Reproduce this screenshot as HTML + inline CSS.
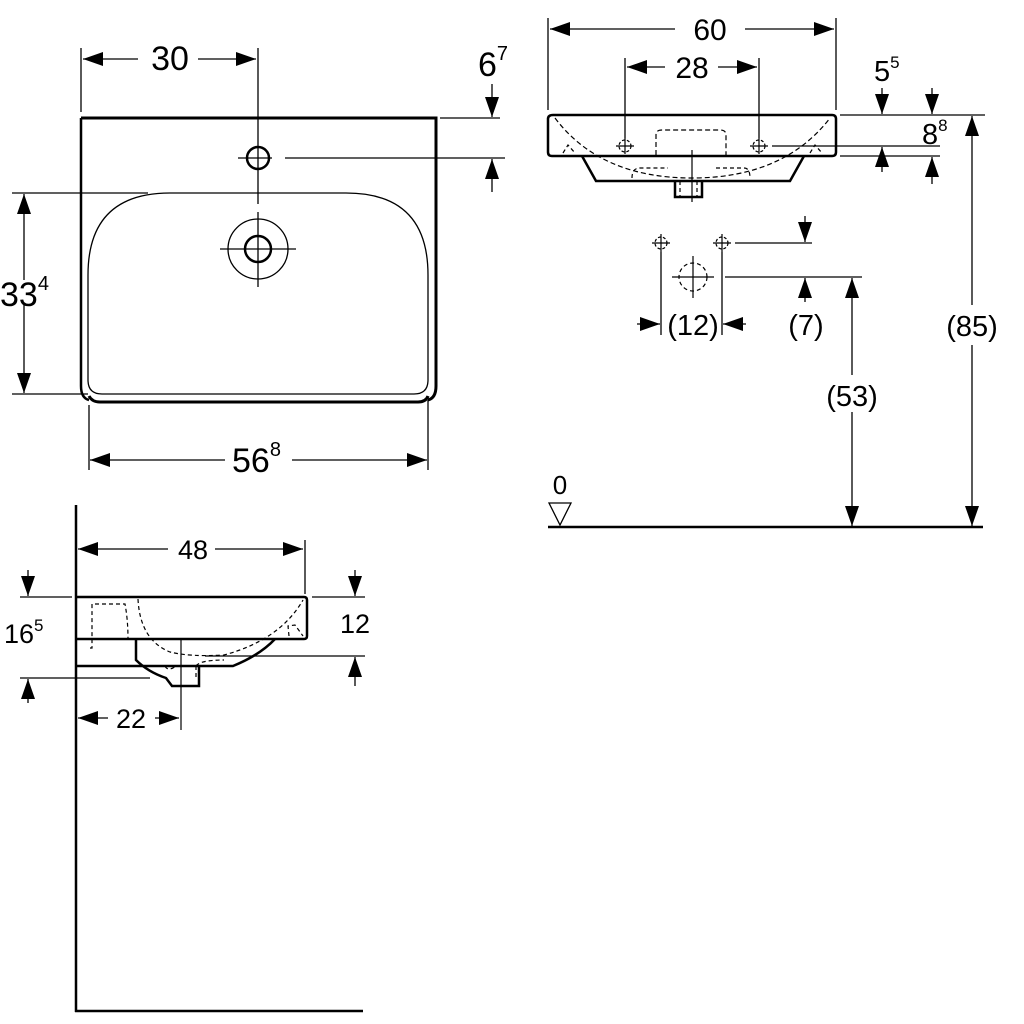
<!DOCTYPE html>
<html><head><meta charset="utf-8"><style>
html,body{margin:0;padding:0;background:#fff}
svg{display:block}
text{font-family:"Liberation Sans",sans-serif;fill:#000}
</style></head><body>
<svg width="1024" height="1024" viewBox="0 0 1024 1024" xmlns="http://www.w3.org/2000/svg">
<defs>
<marker id="a" viewBox="0 0 20 14" refX="20" refY="7" markerWidth="20" markerHeight="14" markerUnits="userSpaceOnUse" orient="auto-start-reverse"><path d="M0,0 L20,7 L0,14 Z" fill="#000"/></marker>
</defs>
<g stroke="#000" fill="none">
<path d="M81,118 H436 V386 Q436,398 428,400" stroke-width="3"/>
<path d="M81,118 V386 Q81,398 89,400" stroke-width="2.5"/>
<path d="M89,396 Q92,402 100,402 H418 Q426,402 428,396" stroke-width="3"/>
<path d="M88,380 V275 Q88,193 170,193 H346 Q428,193 428,275 V380 Q428,394 414,394 H102 Q88,394 88,380 Z" stroke-width="1.3"/>
<circle cx="258" cy="158" r="11" stroke-width="2.5"/>
<circle cx="258" cy="249" r="30" stroke-width="1.3"/>
<circle cx="258" cy="249" r="13" stroke-width="2.5"/>
<line x1="220" y1="249" x2="296" y2="249" stroke-width="1.3"/>
<line x1="258" y1="212" x2="258" y2="287" stroke-width="1.3"/>
<line x1="258" y1="48" x2="258" y2="204" stroke-width="1.3"/>
<line x1="238" y1="158" x2="272" y2="158" stroke-width="1.3"/>
<line x1="285" y1="158" x2="505" y2="158" stroke-width="1.3"/>
<line x1="81" y1="48" x2="81" y2="112" stroke-width="1.3"/>
<line x1="83" y1="59" x2="138" y2="59" stroke-width="1.3" marker-start="url(#a)"/>
<line x1="198" y1="59" x2="256" y2="59" stroke-width="1.3" marker-end="url(#a)"/>
<line x1="440" y1="118" x2="500" y2="118" stroke-width="1.3"/>
<line x1="492" y1="84" x2="492" y2="117" stroke-width="1.3" marker-end="url(#a)"/>
<line x1="492" y1="192" x2="492" y2="159" stroke-width="1.3" marker-end="url(#a)"/>
<line x1="12" y1="193" x2="148" y2="193" stroke-width="1.3"/>
<line x1="12" y1="394" x2="88" y2="394" stroke-width="1.3"/>
<line x1="24" y1="280" x2="24" y2="194" stroke-width="1.3" marker-end="url(#a)"/>
<line x1="24" y1="305" x2="24" y2="393" stroke-width="1.3" marker-end="url(#a)"/>
<line x1="89" y1="405" x2="89" y2="470" stroke-width="1.3"/>
<line x1="428" y1="400" x2="428" y2="470" stroke-width="1.3"/>
<line x1="90" y1="460" x2="225" y2="460" stroke-width="1.3" marker-start="url(#a)"/>
<line x1="292" y1="460" x2="427" y2="460" stroke-width="1.3" marker-end="url(#a)"/>

<path d="M553,115 H832 Q836,115 836,119 V152 Q836,156 832,156 H552 Q548,156 548,152 V119 Q548,115 553,115 Z" stroke-width="2.5"/>
<path d="M582,156 L596,181 H790 L804,156" stroke-width="2.5"/>
<path d="M675,181 V197 H702 V181" stroke-width="2.5"/>
<path d="M555,118 Q600,178 692,178 Q784,178 830,118" stroke-width="1.2" stroke-dasharray="5,3"/>
<path d="M656,155 V135 Q656,130 662,130 H720 Q726,130 726,135 V155" stroke-width="1.2" stroke-dasharray="5,3"/>
<path d="M632,178 Q632,168 640,168 H668 M716,168 H744 Q750,168 750,178" stroke-width="1.2" stroke-dasharray="4,3"/>
<path d="M680,181 V197 M697,181 V197" stroke-width="1.2" stroke-dasharray="4,3"/>
<path d="M563,153 L568,145 L575,153 M810,153 L815,145 L822,153" stroke-width="1.2" stroke-dasharray="4,3"/>
<circle cx="625" cy="146" r="6" stroke-width="1.2" stroke-dasharray="3,2"/>
<circle cx="759" cy="146" r="6" stroke-width="1.2" stroke-dasharray="3,2"/>
<path d="M616,146 H634 M625,138 V154 M750,146 H768 M759,138 V154" stroke-width="1.2"/>
<line x1="692" y1="150" x2="692" y2="202" stroke-width="1.2"/>
<line x1="548" y1="18" x2="548" y2="110" stroke-width="1.3"/>
<line x1="836" y1="18" x2="836" y2="110" stroke-width="1.3"/>
<line x1="550" y1="29" x2="675" y2="29" stroke-width="1.3" marker-start="url(#a)"/>
<line x1="745" y1="29" x2="834" y2="29" stroke-width="1.3" marker-end="url(#a)"/>
<line x1="625" y1="58" x2="625" y2="138" stroke-width="1.3"/>
<line x1="759" y1="58" x2="759" y2="138" stroke-width="1.3"/>
<line x1="627" y1="67" x2="665" y2="67" stroke-width="1.3" marker-start="url(#a)"/>
<line x1="718" y1="67" x2="757" y2="67" stroke-width="1.3" marker-end="url(#a)"/>
<line x1="840" y1="115" x2="985" y2="115" stroke-width="1.3"/>
<line x1="772" y1="146" x2="940" y2="146" stroke-width="1.3"/>
<line x1="840" y1="156" x2="940" y2="156" stroke-width="1.3"/>
<line x1="882" y1="88" x2="882" y2="114" stroke-width="1.3" marker-end="url(#a)"/>
<line x1="932" y1="88" x2="932" y2="114" stroke-width="1.3" marker-end="url(#a)"/>
<line x1="882" y1="172" x2="882" y2="147" stroke-width="1.3" marker-end="url(#a)"/>
<line x1="932" y1="184" x2="932" y2="157" stroke-width="1.3" marker-end="url(#a)"/>
<circle cx="661" cy="243" r="6" stroke-width="1.2" stroke-dasharray="3,2"/>
<circle cx="722" cy="243" r="6" stroke-width="1.2" stroke-dasharray="3,2"/>
<path d="M652,243 H670 M661,234 V252 M713,243 H731 M722,234 V252" stroke-width="1.2"/>
<circle cx="693" cy="277" r="14" stroke-width="1.2" stroke-dasharray="4,3"/>
<path d="M672,277 H714 M693,256 V298" stroke-width="1.2"/>
<line x1="735" y1="243" x2="812" y2="243" stroke-width="1.3"/>
<line x1="725" y1="277" x2="862" y2="277" stroke-width="1.3"/>
<line x1="805" y1="216" x2="805" y2="242" stroke-width="1.3" marker-end="url(#a)"/>
<line x1="805" y1="302" x2="805" y2="278" stroke-width="1.3" marker-end="url(#a)"/>
<line x1="661" y1="252" x2="661" y2="335" stroke-width="1.3"/>
<line x1="722" y1="252" x2="722" y2="335" stroke-width="1.3"/>
<line x1="637" y1="324" x2="660" y2="324" stroke-width="1.3" marker-end="url(#a)"/>
<line x1="746" y1="324" x2="723" y2="324" stroke-width="1.3" marker-end="url(#a)"/>
<line x1="852" y1="375" x2="852" y2="278" stroke-width="1.3" marker-end="url(#a)"/>
<line x1="852" y1="412" x2="852" y2="526" stroke-width="1.3" marker-end="url(#a)"/>
<line x1="972" y1="305" x2="972" y2="116" stroke-width="1.3" marker-end="url(#a)"/>
<line x1="972" y1="345" x2="972" y2="526" stroke-width="1.3" marker-end="url(#a)"/>
<line x1="548" y1="527" x2="983" y2="527" stroke-width="2.5"/>
<path d="M549,503 H571 L560,525 Z" stroke-width="1.3"/>

<line x1="76" y1="505" x2="76" y2="1012" stroke-width="2.5"/>
<line x1="75" y1="1011" x2="363" y2="1011" stroke-width="2.5"/>
<path d="M76,597 H304 Q307,597 307,600 V636 Q307,639 304,639 H76" stroke-width="2.5"/>
<path d="M76,666 H233 Q260,655 275,639" stroke-width="2.5"/>
<path d="M136,639 V660 Q148,672 166,678 L172,686 H199 V666" stroke-width="2.5"/>
<path d="M90,648 H92 Q92,648 92,604 H125 Q128,620 128,639 M138,599 Q140,640 170,652 Q190,657 224,655 Q280,640 303,600 M289,636 L288,626 L295,625 L303,636 M196,666 V680 M165,666 Q168,672 176,666 M196,666 Q200,660 224,660" stroke-width="1.2" stroke-dasharray="4,3"/>
<line x1="181" y1="640" x2="181" y2="730" stroke-width="1.2"/>
<line x1="20" y1="597" x2="72" y2="597" stroke-width="1.3"/>
<line x1="20" y1="678" x2="150" y2="678" stroke-width="1.3"/>
<line x1="205" y1="656" x2="365" y2="656" stroke-width="1.3"/>
<line x1="312" y1="597" x2="365" y2="597" stroke-width="1.3"/>
<line x1="305" y1="540" x2="305" y2="594" stroke-width="1.3"/>
<line x1="78" y1="549" x2="168" y2="549" stroke-width="1.3" marker-start="url(#a)"/>
<line x1="215" y1="549" x2="303" y2="549" stroke-width="1.3" marker-end="url(#a)"/>
<line x1="28" y1="570" x2="28" y2="596" stroke-width="1.3" marker-end="url(#a)"/>
<line x1="28" y1="703" x2="28" y2="679" stroke-width="1.3" marker-end="url(#a)"/>
<line x1="355" y1="570" x2="355" y2="596" stroke-width="1.3" marker-end="url(#a)"/>
<line x1="355" y1="686" x2="355" y2="657" stroke-width="1.3" marker-end="url(#a)"/>
<line x1="78" y1="718" x2="108" y2="718" stroke-width="1.3" marker-start="url(#a)"/>
<line x1="155" y1="718" x2="179" y2="718" stroke-width="1.3" marker-end="url(#a)"/>
</g>
<g font-size="30">
<text x="170" y="70" text-anchor="middle" font-size="34">30</text>
<text x="478" y="76" font-size="34">6<tspan font-size="20" dy="-16">7</tspan></text>
<text x="0" y="306" font-size="34">33<tspan font-size="20" dy="-16">4</tspan></text>
<text x="232" y="472" font-size="34">56<tspan font-size="20" dy="-16">8</tspan></text>
<text x="710" y="40" text-anchor="middle" font-size="30">60</text>
<text x="692" y="78" text-anchor="middle" font-size="30">28</text>
<text x="874" y="81" font-size="29">5<tspan font-size="17" dy="-13">5</tspan></text>
<text x="922" y="144" font-size="29">8<tspan font-size="17" dy="-13">8</tspan></text>
<text x="693" y="335" text-anchor="middle" font-size="29">(12)</text>
<text x="806" y="335" text-anchor="middle" font-size="29">(7)</text>
<text x="852" y="406" text-anchor="middle" font-size="29">(53)</text>
<text x="972" y="336" text-anchor="middle" font-size="29">(85)</text>
<text x="560" y="494" text-anchor="middle" font-size="26">0</text>
<text x="193" y="559" text-anchor="middle" font-size="27">48</text>
<text x="4" y="643" font-size="27">16<tspan font-size="17" dy="-12">5</tspan></text>
<text x="355" y="633" text-anchor="middle" font-size="27">12</text>
<text x="131" y="728" text-anchor="middle" font-size="27">22</text>
</g>
</svg>
</body></html>
